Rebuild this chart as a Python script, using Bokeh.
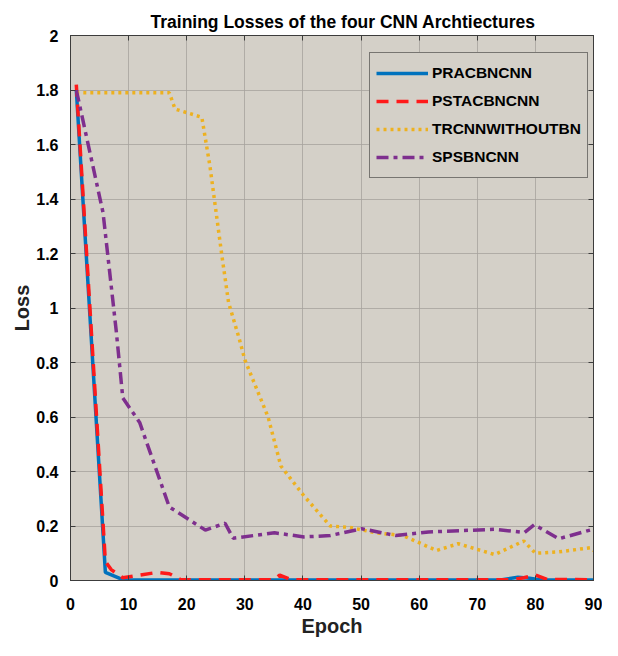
from bokeh.plotting import figure
from bokeh.models import Range1d, FixedTicker, LinearAxis, Legend, LegendItem
from bokeh.embed import file_html
from bokeh.resources import INLINE

# ---- data ----
prac_epoch = [1, 6, 9, 12, 74, 77, 79, 81, 90]
prac_loss = [1.80, 0.03, 0.003, 0.002, 0.002, 0.012, 0.008, 0.002, 0.002]

psta_epoch = [1, 6, 7, 9, 12, 15, 17, 19, 35, 36, 38, 76, 78, 80, 82, 90]
psta_loss = [1.82, 0.07, 0.04, 0.01, 0.02, 0.03, 0.025, 0.003, 0.003, 0.02, 0.003, 0.003, 0.01, 0.02, 0.004, 0.003]

trcnn_epoch = [1, 17, 18, 22.6, 24, 26, 27.2, 29, 30, 34, 36.2, 40.2, 44.7, 48, 52.6, 57.2, 63, 66.7, 73, 78, 80, 84, 89.4, 90]
trcnn_loss = [1.79, 1.79, 1.73, 1.70, 1.52, 1.20, 1.02, 0.89, 0.81, 0.60, 0.42, 0.31, 0.20, 0.195, 0.175, 0.165, 0.11, 0.135, 0.095, 0.145, 0.10, 0.105, 0.12, 0.11]

sps_epoch = [1, 5.6, 7.9, 9, 11.9, 17, 23.2, 26.6, 28, 35.1, 40.2, 44.7, 50.1, 56, 61.6, 73, 78.1, 79.8, 84, 89.4, 90]
sps_loss = [1.80, 1.35, 0.91, 0.67, 0.58, 0.27, 0.185, 0.21, 0.155, 0.175, 0.16, 0.165, 0.19, 0.165, 0.178, 0.188, 0.176, 0.205, 0.153, 0.185, 0.175]

series_names = ["PRACBNCNN", "PSTACBNCNN", "TRCNNWITHOUTBN", "SPSBNCNN"]
x_ticks = [0, 10, 20, 30, 40, 50, 60, 70, 80, 90]
y_ticks = [0, 0.2, 0.4, 0.6, 0.8, 1, 1.2, 1.4, 1.6, 1.8, 2]

FONT = "Liberation Sans"
BG = "#d4d0c8"
AXC = "#3c3c3c"

p = figure(width=602, height=640, output_backend="svg", toolbar_location=None,
           x_range=Range1d(0, 90), y_range=Range1d(0, 2),
           title="Training Losses of the four CNN Archtiectures",
           min_border_left=70, min_border_right=9, min_border_top=35, min_border_bottom=60)

p.background_fill_color = BG
p.border_fill_color = "white"
p.outline_line_color = AXC

p.title.align = "left"
p.title.offset = 80
p.title.text_font = FONT
p.title.text_font_size = "17.5px"
p.title.text_font_style = "bold"
p.title.text_color = "black"
p.title.standoff = 8

for ax in (p.xaxis[0], p.yaxis[0]):
    ax.major_label_text_font = FONT
    ax.major_label_text_font_size = "16px"
    ax.major_label_text_font_style = "bold"
    ax.major_label_text_color = "black"
    ax.axis_label_text_font = FONT
    ax.axis_label_text_font_size = "20px"
    ax.axis_label_text_font_style = "bold"
    ax.axis_label_text_color = "#222222"
    ax.major_tick_in = 5
    ax.major_tick_out = 0
    ax.minor_tick_line_color = None
    ax.axis_line_color = AXC
    ax.major_tick_line_color = AXC

p.xaxis[0].ticker = FixedTicker(ticks=x_ticks)
p.yaxis[0].ticker = FixedTicker(ticks=y_ticks)
p.yaxis[0].major_label_overrides = {0: "0", 1: "1", 2: "2"}
p.xaxis[0].axis_label = "Epoch"
p.yaxis[0].axis_label = "Loss"
p.xaxis[0].major_label_standoff = 17
p.yaxis[0].major_label_standoff = 12
p.xaxis[0].axis_label_standoff = 2
p.yaxis[0].axis_label_standoff = 0

# box axes (top & right) with inward ticks, no labels drawn
for loc, tk in (("right", y_ticks), ("above", x_ticks)):
    a = LinearAxis(ticker=FixedTicker(ticks=tk), major_label_text_font_size="1px",
                   major_label_text_color=None,
                   major_tick_in=5, major_tick_out=0, minor_tick_line_color=None,
                   axis_line_color=AXC, major_tick_line_color=AXC, major_label_standoff=0)
    p.add_layout(a, loc)

p.grid.grid_line_color = "#a6a39d"
p.grid.grid_line_alpha = 0.8
p.xgrid.ticker = FixedTicker(ticks=x_ticks)
p.ygrid.ticker = FixedTicker(ticks=y_ticks)

r1 = p.line(prac_epoch, prac_loss, line_color="#0072BD", line_width=3.5)
r2 = p.line(psta_epoch, psta_loss, line_color="#FF1A1A", line_width=3.5, line_dash="12 8")
r3 = p.line(trcnn_epoch, trcnn_loss, line_color="#EDB120", line_width=3.5, line_dash="3 4")
r4 = p.line(sps_epoch, sps_loss, line_color="#7E2F8E", line_width=3.5, line_dash="12 5 4 5")

legend = Legend(items=[LegendItem(label=n, renderers=[r]) for n, r in zip(series_names, [r1, r2, r3, r4])],
                location=(299, 402))
legend.label_text_font = FONT
legend.label_text_font_size = "15.5px"
legend.label_text_font_style = "bold"
legend.label_text_color = "black"
legend.background_fill_color = BG
legend.background_fill_alpha = 1
legend.border_line_color = "#1a1a1a"
legend.border_line_width = 1
legend.glyph_width = 52
legend.glyph_height = 28
legend.label_height = 28
legend.spacing = 0
legend.padding = 6
legend.margin = 0
legend.label_standoff = 4
p.add_layout(legend, "center")

open("out.html", "w").write(file_html(p, INLINE))
